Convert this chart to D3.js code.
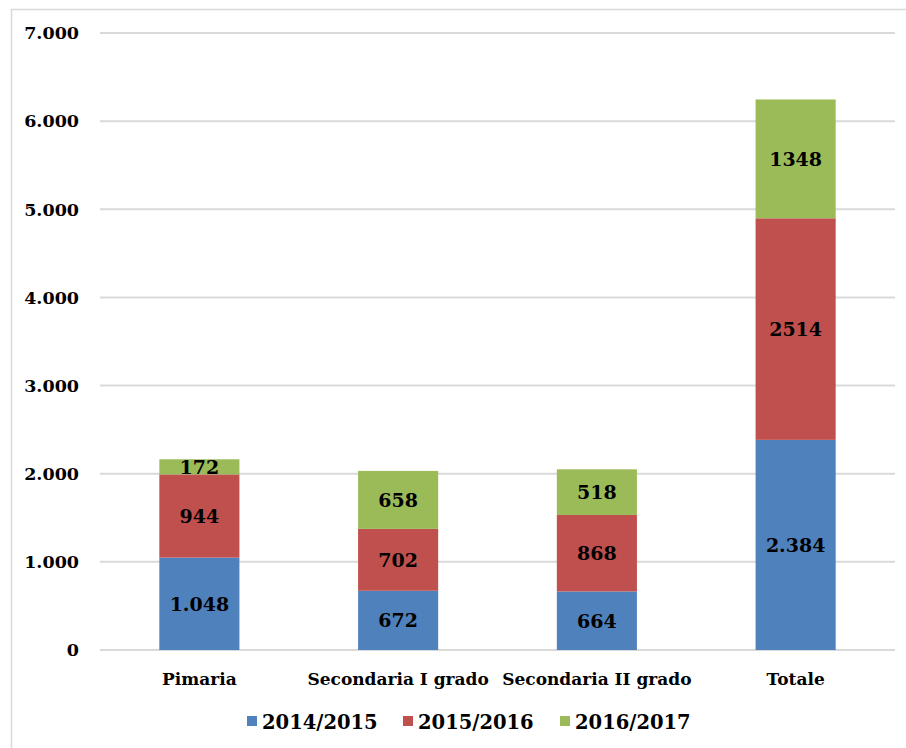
<!DOCTYPE html>
<html><head><meta charset="utf-8">
<script src="https://cdn.jsdelivr.net/npm/d3@7"></script>
<style>body{margin:0;background:#fff}svg{display:block}</style>
</head><body>
<script>
const categories = ["Pimaria", "Secondaria I grado", "Secondaria II grado", "Totale"];
const seriesNames = ["2014/2015", "2015/2016", "2016/2017"];
const s2014 = [1048, 672, 664, 2384];
const s2015 = [944, 702, 868, 2514];
const s2016 = [172, 658, 518, 1348];
const labels2014 = ["1.048", "672", "664", "2.384"];
const labels2015 = ["944", "702", "868", "2514"];
const labels2016 = ["172", "658", "518", "1348"];
const yTicks = [0, 1000, 2000, 3000, 4000, 5000, 6000, 7000];
const colors = ["#4f81bd", "#c0504d", "#9bbb59"];

const W = 906, H = 748;
const svg = d3.select("body").append("svg").attr("width", W).attr("height", H);
const font = "'DejaVu Serif', serif";

svg.append("rect").attr("x", 11.5).attr("y", 9.5).attr("width", W + 10).attr("height", H + 10)
  .attr("fill", "#fff").attr("stroke", "#d9d9d9").attr("stroke-width", 1.5);

const x = d3.scaleBand().domain(categories).range([100, 895]).paddingInner(0.597).paddingOuter(0.2985);
const y = d3.scaleLinear().domain([0, 7000]).range([650, 33]);

// grid
svg.append("g").selectAll("line").data(yTicks).join("line")
  .attr("x1", 100).attr("x2", 895).attr("y1", d => y(d)).attr("y2", d => y(d))
  .attr("stroke", "#d9d9d9").attr("stroke-width", 2);

// y axis labels
const fmt = d => d === 0 ? "0" : d3.format(",")(d).replace(/,/g, ".");
svg.append("g").selectAll("text").data(yTicks).join("text")
  .attr("x", 79).attr("y", d => y(d)).attr("dy", "0.36em").attr("text-anchor", "end")
  .attr("font-family", font).attr("font-weight", "bold").attr("font-size", 17.5).attr("fill", "#000")
  .text(fmt);

const data = categories.map((c, i) => ({cat: c, "2014/2015": s2014[i], "2015/2016": s2015[i], "2016/2017": s2016[i]}));
const stack = d3.stack().keys(seriesNames)(data);
const labelSets = [labels2014, labels2015, labels2016];

stack.forEach((layer, k) => {
  const g = svg.append("g");
  g.selectAll("rect").data(layer).join("rect")
    .attr("x", d => x(d.data.cat)).attr("width", x.bandwidth())
    .attr("y", d => y(d[1])).attr("height", d => y(d[0]) - y(d[1]))
    .attr("fill", colors[k]);
  g.selectAll("text").data(layer).join("text")
    .attr("x", d => x(d.data.cat) + x.bandwidth() / 2)
    .attr("y", d => (y(d[0]) + y(d[1])) / 2).attr("dy", "0.36em")
    .attr("text-anchor", "middle").attr("font-family", font).attr("font-weight", "bold")
    .attr("font-size", 19).attr("fill", "#000")
    .text((d, i) => labelSets[k][i]);
});

// category labels
svg.append("g").selectAll("text").data(categories).join("text")
  .attr("x", d => x(d) + x.bandwidth() / 2).attr("y", 685)
  .attr("text-anchor", "middle").attr("font-family", font).attr("font-weight", "bold")
  .attr("font-size", 17).attr("fill", "#000").text(d => d);

// legend
const legX = [247, 403, 560];
const leg = svg.append("g");
seriesNames.forEach((s, i) => {
  leg.append("rect").attr("x", legX[i]).attr("y", 716).attr("width", 10).attr("height", 10).attr("fill", colors[i]);
  leg.append("text").attr("x", legX[i] + 15).attr("y", 729).attr("font-family", font)
    .attr("font-weight", "bold").attr("font-size", 19.5).attr("fill", "#000").text(s);
});
</script>
</body></html>
